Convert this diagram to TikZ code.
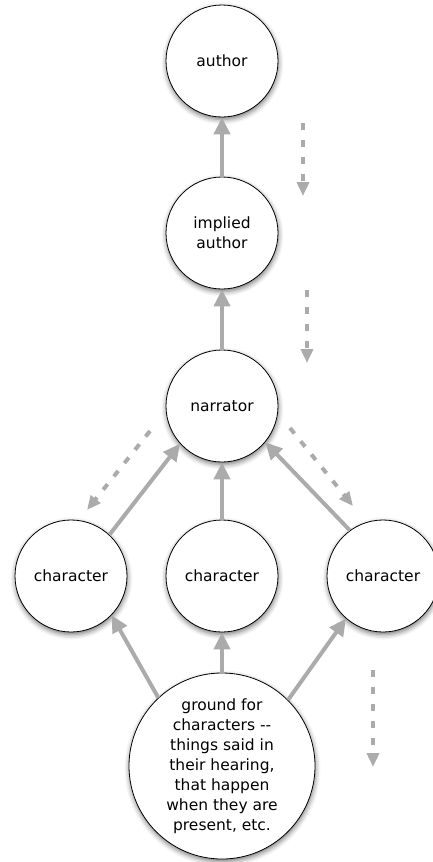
\documentclass[tikz,border=0pt]{standalone}
\usepackage{fontspec}
\setmainfont{DejaVu Sans}
\usetikzlibrary{arrows.meta,shadows.blur}
\definecolor{linkgray}{HTML}{ABABAB}
\begin{document}
\begin{tikzpicture}[x=1pt,y=-1pt,
  bubble/.style={circle,draw=black,line width=0.8pt,fill=white,
    minimum size=112pt,inner sep=0pt,align=center,
    font=\fontsize{15.5}{20}\selectfont,
    blur shadow={shadow xshift=0.5pt,shadow yshift=-2.5pt,shadow blur radius=5pt,shadow opacity=55}},
  influence/.style={draw=linkgray,line width=4pt,
    -{Triangle[width=16pt,length=17pt]}},
  flow/.style={draw=linkgray,line width=4pt,dash pattern=on 7pt off 10pt,
    -{Triangle[width=12pt,length=14pt]}}]
\useasboundingbox (0,0) rectangle (432,862);

% the chain of voices
\node[bubble] (author)  at (222,61)  {author};
\node[bubble] (implied) at (222,233) {implied\\author};
\node[bubble] (narr)    at (222,406) {narrator};
\node[bubble] (charL)   at (71,576)  {character};
\node[bubble] (charM)   at (222,576) {character};
\node[bubble] (charR)   at (383,576) {character};
\node[bubble,minimum size=186pt] (ground) at (222,766)
  {ground for\\characters -{}-\\things said in\\their hearing,\\that happen\\when they are\\present, etc.};

% who speaks through whom
\draw[influence] (implied) -- (author);
\draw[influence] (narr) -- (implied);
\draw[influence] (charL.47) -- (narr.222);
\draw[influence] (charM) -- (narr);
\draw[influence] (charR.126) -- (narr.320);
\draw[influence] (ground.133) -- (charL.316);
\draw[influence] (ground) -- (charM);
\draw[influence] (ground.45) -- (charR.229);

% direction of telling
\coordinate (f1a) at (303,123); \coordinate (f1b) at (303,196);
\coordinate (f2a) at (307,290); \coordinate (f2b) at (307,363);
\coordinate (f3a) at (150,431); \coordinate (f3b) at (87,510);
\coordinate (f4a) at (290,428); \coordinate (f4b) at (353,506);
\coordinate (f5a) at (373,670); \coordinate (f5b) at (373,767);
\draw[flow] (f1a) -- (f1b);
\draw[flow] (f2a) -- (f2b);
\draw[flow] (f3a) -- (f3b);
\draw[flow] (f4a) -- (f4b);
\draw[flow] (f5a) -- (f5b);
\end{tikzpicture}
\end{document}
